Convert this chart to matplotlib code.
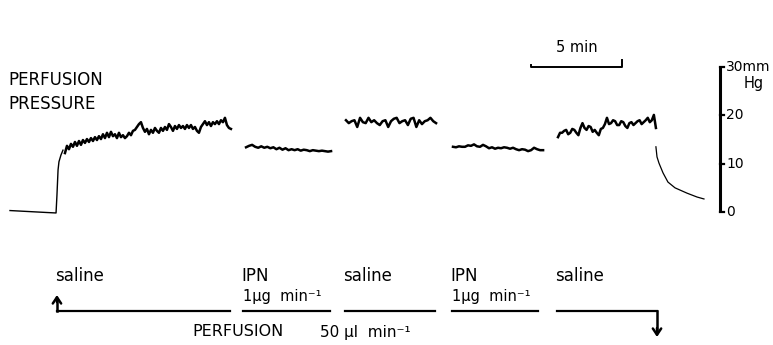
import numpy as np
import matplotlib.pyplot as plt
import matplotlib.transforms as mtransforms

# pressure record, mmHg; times in minutes
base_t = [0.0, 1.0, 2.0, 2.53, 2.58, 2.64, 2.69, 2.80, 2.91]
base_p = [0.3, 0.1, -0.1, -0.2, 3.5, 8.7, 10.4, 11.8, 12.8]

sal1_t = (3.02, 12.14)
sal1_p = [12.2, 13.7, 13.0, 14.1, 13.5, 14.5, 13.7, 14.7, 13.9, 14.9,
          14.3, 15.1, 14.5, 15.3, 14.7, 15.5, 14.9, 15.7, 15.1, 16.1,
          15.3, 16.4, 15.5, 16.6, 15.7, 16.1, 15.3, 16.4, 15.5, 15.9,
          15.3, 15.7, 16.4, 15.9, 16.8, 17.0, 17.6, 18.2, 18.6, 17.4,
          16.6, 17.2, 16.1, 17.0, 16.4, 17.4, 16.8, 16.4, 17.4, 16.8,
          17.6, 17.0, 18.2, 17.6, 16.8, 17.8, 17.2, 18.0, 17.4, 17.8,
          17.2, 18.0, 17.4, 18.0, 17.2, 17.6, 16.8, 16.4, 17.6, 18.2,
          18.8, 18.0, 18.6, 17.8, 18.6, 18.2, 18.8, 18.2, 19.0, 18.6,
          19.5, 18.0, 17.4, 17.2]

ipn1_t = (12.97, 17.64)
ipn1_p = [13.4, 13.7, 13.9, 13.5, 13.3, 13.6, 13.3, 13.5, 13.2, 13.4,
          13.0, 13.3, 12.9, 13.2, 12.8, 13.0, 12.8, 13.0, 12.7, 12.9,
          12.8, 12.6, 12.8, 12.7, 12.6, 12.7, 12.6, 12.5, 12.6]

sal2_t = (18.46, 23.41)
sal2_p = [19.0, 18.4, 18.8, 19.0, 17.6, 19.5, 18.6, 18.4, 19.5, 18.6,
          19.0, 18.4, 18.0, 18.8, 19.0, 17.6, 18.8, 19.3, 19.5, 18.4,
          18.8, 19.0, 18.0, 19.3, 19.5, 17.6, 19.0, 18.2, 18.8, 19.0,
          19.5, 18.8, 18.4]

ipn2_t = (24.34, 29.29)
ipn2_p = [13.5, 13.4, 13.6, 13.5, 13.5, 13.8, 13.7, 14.0, 13.6, 13.5,
          13.9, 13.6, 13.2, 13.4, 13.1, 13.3, 13.2, 13.4, 13.3, 13.1,
          13.3, 13.0, 12.8, 13.0, 12.9, 12.6, 12.8, 13.3, 13.0, 12.8,
          12.8]

sal3_t = (30.11, 35.49)
sal3_p = [15.5, 16.4, 16.4, 16.8, 17.0, 16.1, 16.4, 17.2, 17.0, 16.4,
          15.9, 17.4, 18.4, 17.4, 17.0, 17.8, 17.6, 16.6, 17.0, 16.4,
          15.9, 17.2, 17.4, 18.2, 19.5, 18.2, 18.4, 19.0, 18.8, 18.0,
          18.0, 18.8, 18.6, 17.8, 17.4, 18.4, 18.6, 18.0, 18.4, 18.8,
          19.0, 18.2, 18.6, 19.0, 19.5, 18.6, 19.0, 20.1, 17.4]

wash_t = [35.49, 35.55, 35.66, 35.88, 36.15, 36.54, 37.20, 37.75, 38.13]
wash_p = [13.5, 11.4, 10.1, 8.1, 6.2, 5.0, 3.9, 3.1, 2.7]

# infusion periods (min) and their labels
periods = [(2.58, 12.09), (12.80, 17.58), (18.41, 23.35), (24.29, 29.01), (30.05, 35.55)]
period_labels = ['saline', 'IPN', 'saline', 'IPN', 'saline']
dose_label = '1\u00b5g  min\u207b\u00b9'

scale_ticks = [0, 10, 20, 30]
scale_t = 39.01
time_bar = (28.63, 5)   # start, length (min)

px_min = 18.2   # pixels per minute
px_mm = 4.83    # pixels per mmHg
W, H = 773, 345

fig = plt.figure(figsize=(W / 100, H / 100), dpi=100)
ax = fig.add_axes([0, 0, 1, 1])
ax.set_xlim(-10 / px_min, (W - 10) / px_min)
ax.set_ylim((212 - H) / px_mm, 212 / px_mm)
ax.axis('off')

# pixel coords measured from the top left
pix = mtransforms.Affine2D().scale(1, -1).translate(0, H)
bx = mtransforms.blended_transform_factory(ax.transData, pix)

k = dict(color='black', solid_joinstyle='round')
ax.plot(base_t, base_p, lw=1.0, **k)
for (t0, t1), p in [(sal1_t, sal1_p), (ipn1_t, ipn1_p), (sal2_t, sal2_p),
                    (ipn2_t, ipn2_p), (sal3_t, sal3_p)]:
    ax.plot(np.linspace(t0, t1, len(p)), p, lw=1.8, **k)
ax.plot(wash_t, wash_p, lw=0.9, **k)

# pressure scale bar
ax.plot([scale_t, scale_t], [scale_ticks[0], scale_ticks[-1]], color='black', lw=2.2,
        solid_capstyle='butt')
for v in scale_ticks:
    ax.plot([scale_t, scale_t + 0.22], [v, v], color='black', lw=1.6)
    lab = f'{v}mm' if v == scale_ticks[-1] else str(v)
    ax.text(scale_t + 0.35, v, lab, fontsize=10, va='center', ha='left')
ax.text(scale_t + 1.3, scale_ticks[-1] - 3.4, 'Hg', fontsize=10.5, va='center', ha='left')

# time scale bar
t0, dt = time_bar
ax.plot([t0, t0, t0 + dt, t0 + dt], [30.5, 30.0, 30.0, 31.4], color='black', lw=1.4)
ax.text(t0 + dt / 2, 34.0, f'{dt} min', fontsize=10.5, ha='center', va='center')

fs = 12
ax.text(8, 80, 'PERFUSION', fontsize=fs, transform=pix, va='center')
ax.text(8, 104, 'PRESSURE', fontsize=fs, transform=pix, va='center')

# infusion lines below the trace
for (a, b), lab in zip(periods, period_labels):
    ax.plot([a, b], [311, 311], color='black', lw=1.6, transform=bx)
    ax.text(a - 0.1, 276, lab, fontsize=fs, transform=bx, ha='left', va='center')
    if lab == 'IPN':
        ax.text(a, 296, dose_label, fontsize=10.5, transform=bx, ha='left', va='center')

a0 = periods[0][0]
ax.plot([a0, a0], [311, 300], color='black', lw=1.8, transform=bx)
ax.annotate('', xy=(a0, 295), xytext=(a0, 302), xycoords=bx, textcoords=bx,
            arrowprops=dict(arrowstyle='->,head_length=0.45,head_width=0.3', lw=1.8,
                            color='black', shrinkA=0, shrinkB=0))
a1 = periods[-1][1]
ax.plot([a1, a1], [311, 330], color='black', lw=1.8, transform=bx)
ax.annotate('', xy=(a1, 337), xytext=(a1, 328), xycoords=bx, textcoords=bx,
            arrowprops=dict(arrowstyle='->,head_length=0.45,head_width=0.3', lw=1.8,
                            color='black', shrinkA=0, shrinkB=0))

ax.text(192, 332, 'PERFUSION', fontsize=11.5, transform=pix, va='center')
ax.text(320, 332, '50 \u00b5l  min\u207b\u00b9', fontsize=11, transform=pix, va='center')

fig.savefig('out.png', dpi=100)
